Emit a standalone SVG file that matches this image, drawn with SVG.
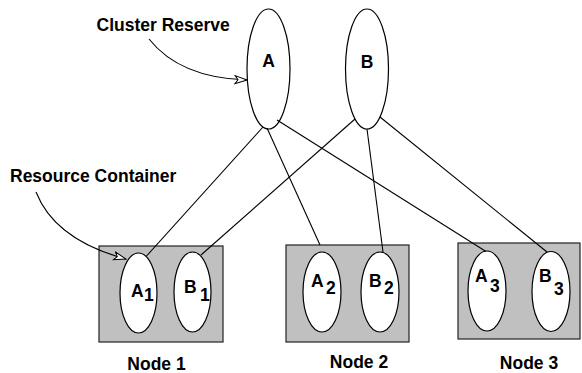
<svg xmlns="http://www.w3.org/2000/svg" width="582" height="373" viewBox="0 0 582 373">
<style>
text{font-family:"Liberation Sans",Arial,sans-serif;font-weight:bold;font-size:17.5px;fill:#000}
.box{fill:#c0c0c0;stroke:#222;stroke-width:1.2}
.ell{fill:#fff;stroke:#000;stroke-width:1.2}
.ln{fill:none;stroke:#000;stroke-width:1.1}
</style>
<defs>
<marker id="arr" markerWidth="14" markerHeight="10" refX="13" refY="5" orient="auto" markerUnits="userSpaceOnUse">
<path d="M1,1 L13,5 L1,9 L4,5 Z" fill="#fff" stroke="#000" stroke-width="1"/>
</marker>
</defs>
<rect width="582" height="373" fill="#fff"/>
<g id="cluster-A"><ellipse class="ell" cx="268.5" cy="69" rx="21.5" ry="60"/><text x="268.5" y="67" text-anchor="middle">A</text></g>
<g id="cluster-B"><ellipse class="ell" cx="367" cy="69" rx="21.5" ry="60"/><text x="367" y="68" text-anchor="middle">B</text></g>
<g id="node1">
<rect class="box" x="99" y="246" width="124" height="96"/>
<ellipse class="ell" cx="138.5" cy="293" rx="18.5" ry="40"/>
<ellipse class="ell" cx="192.5" cy="292" rx="18.5" ry="40"/>
<text x="131" y="297">A</text><text x="144" y="301">1</text>
<text x="184" y="293">B</text><text x="200" y="301">1</text>
</g>
<g id="node2">
<rect class="box" x="286" y="245" width="123" height="97"/>
<ellipse class="ell" cx="322" cy="292" rx="19" ry="40"/>
<ellipse class="ell" cx="380" cy="292" rx="19" ry="40"/>
<text x="311" y="287">A</text><text x="326" y="294">2</text>
<text x="369" y="287">B</text><text x="384" y="294">2</text>
</g>
<g id="node3">
<rect class="box" x="458" y="243" width="122" height="96"/>
<ellipse class="ell" cx="487" cy="291" rx="19" ry="40"/>
<ellipse class="ell" cx="551" cy="291.5" rx="19" ry="40"/>
<text x="475" y="282">A</text><text x="490" y="292">3</text>
<text x="539" y="282">B</text><text x="554" y="295">3</text>
</g>
<g id="connectors">
<line class="ln" x1="263" y1="127" x2="146.5" y2="256"/>
<line class="ln" x1="267" y1="128" x2="320" y2="245"/>
<line class="ln" x1="277" y1="120" x2="486" y2="251.5"/>
<line class="ln" x1="355" y1="119" x2="201" y2="255"/>
<line class="ln" x1="367" y1="129" x2="383" y2="252"/>
<line class="ln" x1="380" y1="117" x2="547" y2="252"/>
<path class="ln" d="M149,39 Q180,78 247,80" marker-end="url(#arr)"/>
<path class="ln" d="M36,192 Q55,240 126,259" marker-end="url(#arr)"/>
</g>
<g id="labels">
<text x="96.5" y="31">Cluster Reserve</text>
<text x="10" y="182">Resource Container</text>
<text x="156.5" y="370" text-anchor="middle">Node 1</text>
<text x="359" y="368" text-anchor="middle">Node 2</text>
<text x="529" y="369" text-anchor="middle">Node 3</text>
</g>
</svg>
